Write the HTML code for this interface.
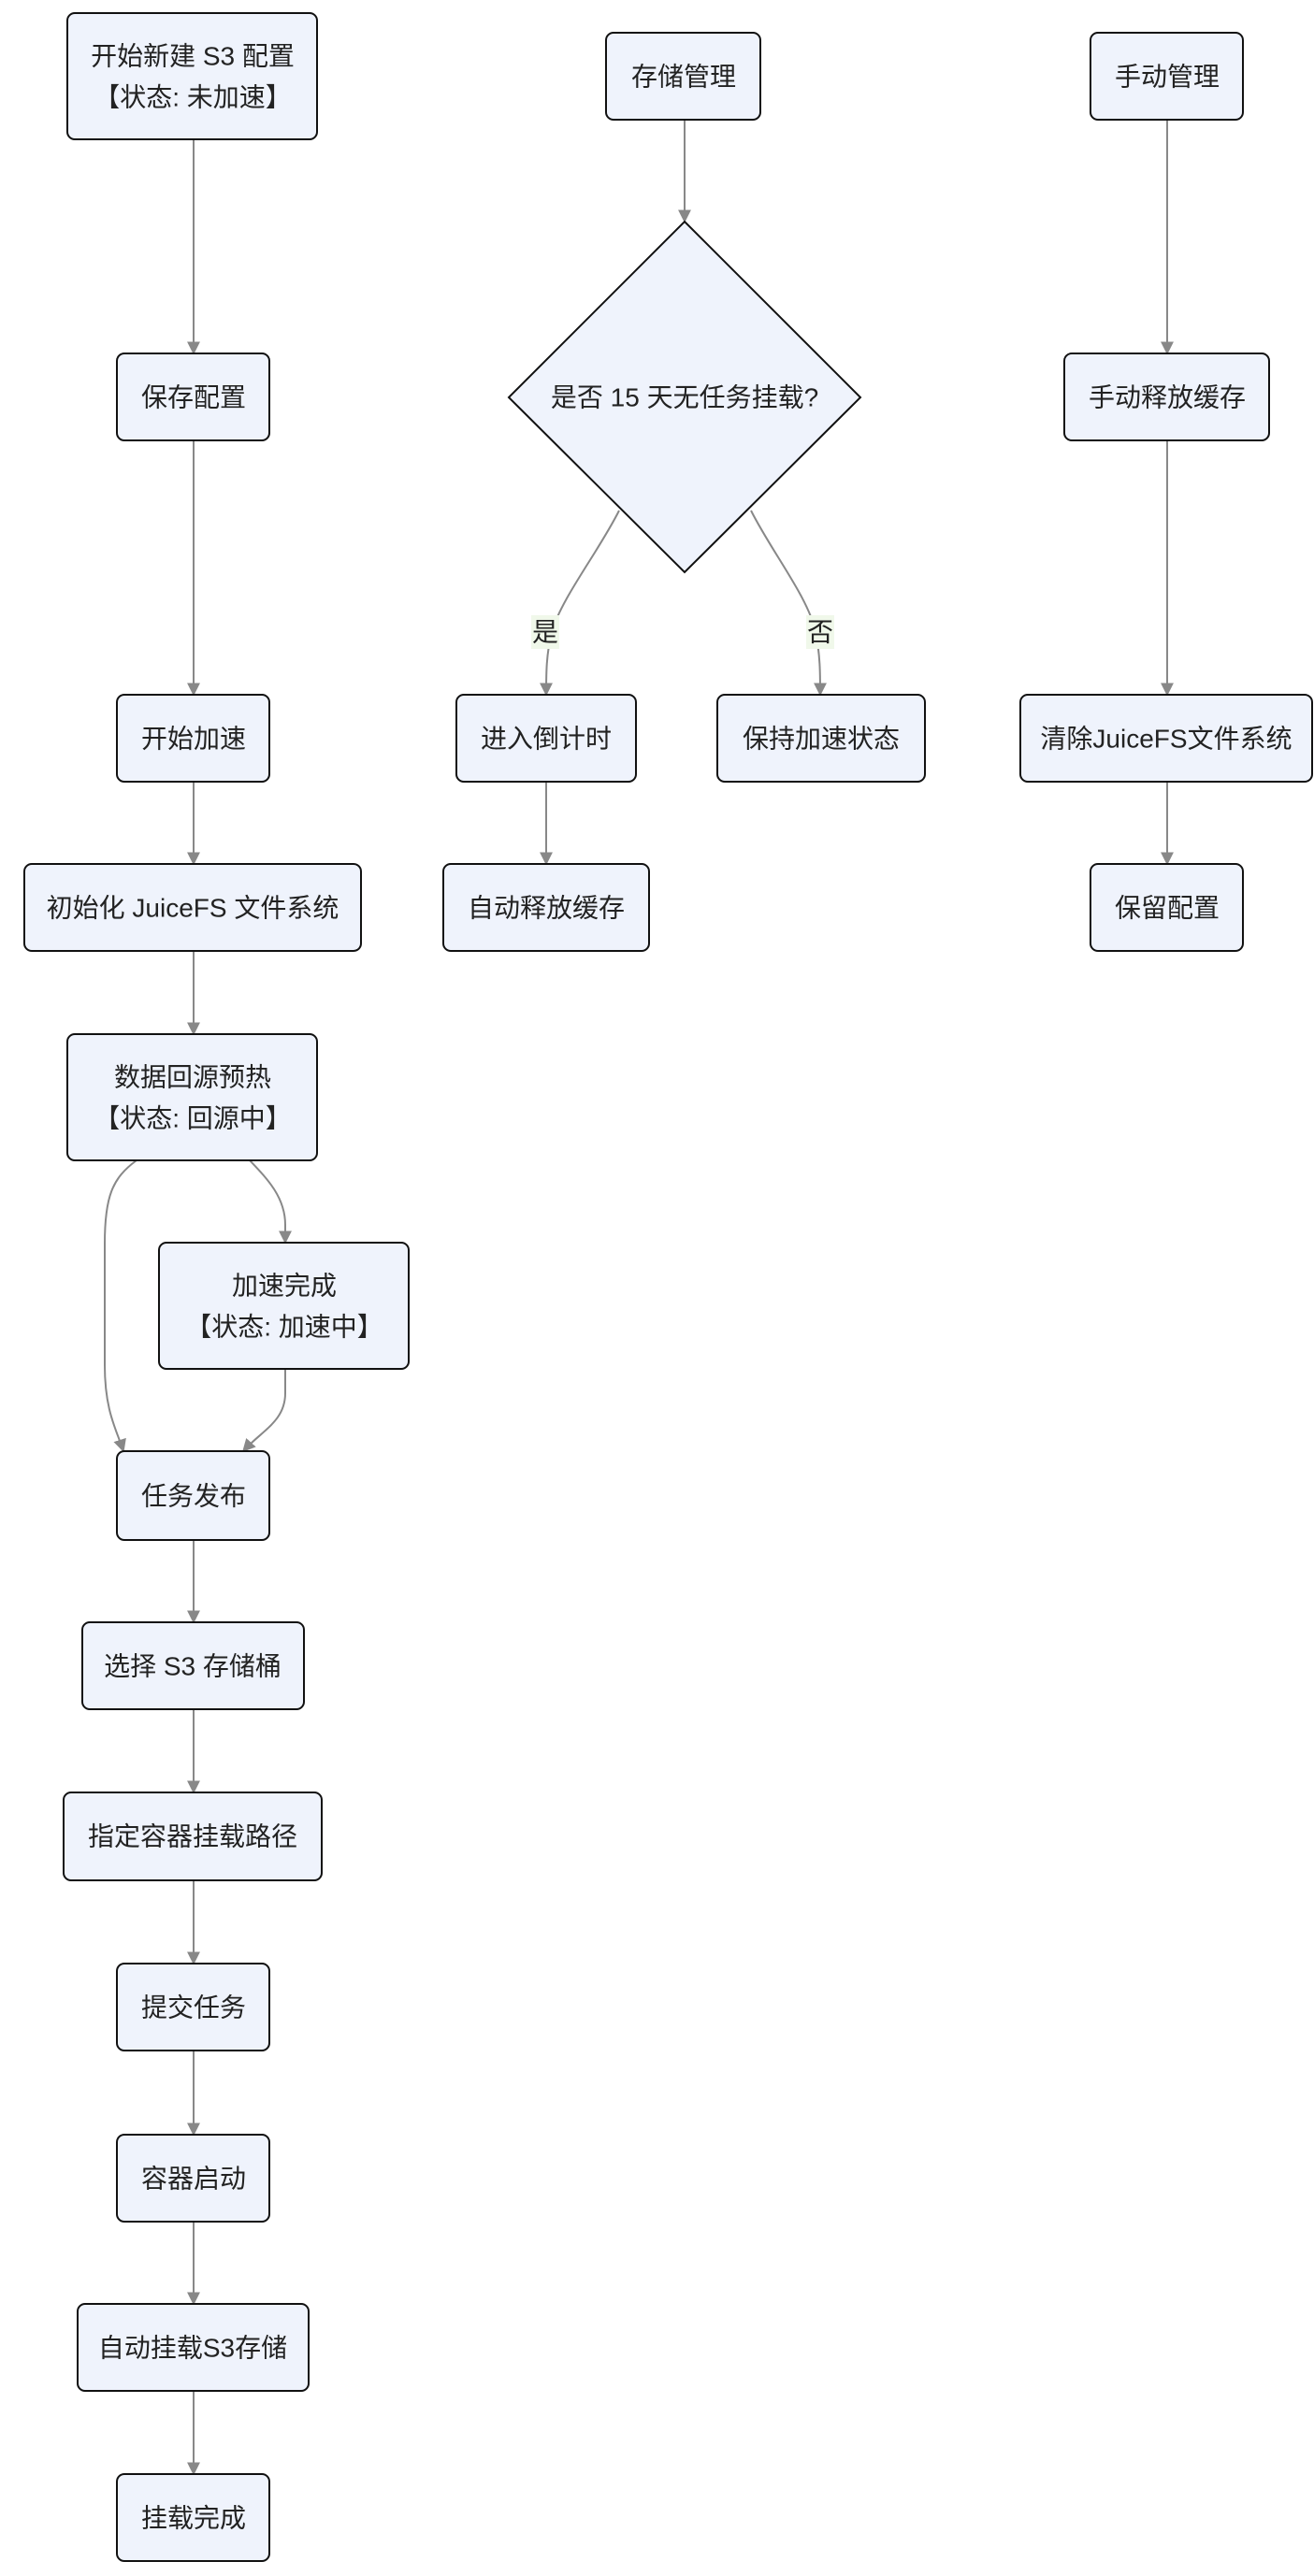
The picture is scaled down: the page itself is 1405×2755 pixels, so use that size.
<!DOCTYPE html>
<html><head><meta charset="utf-8"><style>
html,body{margin:0;padding:0;background:#fff;}
svg{display:block;}
text{font-family:"Liberation Sans","Noto Sans CJK SC",sans-serif;font-size:28px;fill:#222;text-anchor:middle;dominant-baseline:central;}
.n{fill:#eff3fc;stroke:#111;stroke-width:2;}
.e{fill:none;stroke:#888;stroke-width:2;}
</style></head><body>
<svg width="1405" height="2755" viewBox="0 0 1405 2755" xmlns="http://www.w3.org/2000/svg">
<defs><marker id="a" viewBox="0 0 10 10" refX="9" refY="5" markerWidth="9" markerHeight="9" markerUnits="userSpaceOnUse" orient="auto"><path d="M0,0L10,5L0,10z" fill="#888"/></marker>
<marker id="b" viewBox="0 0 10 10" refX="9" refY="5" markerWidth="14" markerHeight="14" markerUnits="userSpaceOnUse" orient="auto"><path d="M0,0L10,5L0,10z" fill="#888"/></marker></defs>
<g marker-end="url(#b)">
<path class="e" d="M207,149V378"/>
<path class="e" d="M207,471V743"/>
<path class="e" d="M207,836V924"/>
<path class="e" d="M207,1017V1106"/>
<path class="e" d="M146,1241C120,1260 112,1280 112,1330V1460C112,1510 125,1530 132,1552"/>
<path class="e" d="M267,1241C285,1260 305,1280 305,1310V1329"/>
<path class="e" d="M305,1464V1490C305,1520 280,1530 260,1552"/>
<path class="e" d="M207,1647V1735"/>
<path class="e" d="M207,1828V1917"/>
<path class="e" d="M207,2011V2100"/>
<path class="e" d="M207,2193V2283"/>
<path class="e" d="M207,2376V2464"/>
<path class="e" d="M207,2557V2646"/>
<path class="e" d="M732,128V237"/>
<path class="e" d="M662,546C640,590 600,640 590,676C584,700 584,720 584,743"/>
<path class="e" d="M803,546C825,590 865,640 872,676C877,700 877,720 877,743"/>
<path class="e" d="M584,836V924"/>
<path class="e" d="M1248,128V378"/>
<path class="e" d="M1248,471V743"/>
<path class="e" d="M1248,836V924"/>
</g>
<rect x="568" y="658" width="30" height="36" fill="#f0f8ea"/><text x="583" y="676">是</text>
<rect x="862" y="658" width="30" height="36" fill="#f0f8ea"/><text x="877" y="676">否</text>

<rect class="n" x="72" y="14" width="267" height="135" rx="8"/><text x="206" y="60">开始新建 S3 配置</text><text x="206" y="104">【状态: 未加速】</text>
<rect class="n" x="125" y="378" width="163" height="93" rx="8"/><text x="207" y="425">保存配置</text>
<rect class="n" x="125" y="743" width="163" height="93" rx="8"/><text x="207" y="790">开始加速</text>
<rect class="n" x="26" y="924" width="360" height="93" rx="8"/><text x="206" y="971">初始化 JuiceFS 文件系统</text>
<rect class="n" x="72" y="1106" width="267" height="135" rx="8"/><text x="206" y="1152">数据回源预热</text><text x="206" y="1196">【状态: 回源中】</text>
<rect class="n" x="170" y="1329" width="267" height="135" rx="8"/><text x="304" y="1375">加速完成</text><text x="304" y="1419">【状态: 加速中】</text>
<rect class="n" x="125" y="1552" width="163" height="95" rx="8"/><text x="207" y="1600">任务发布</text>
<rect class="n" x="88" y="1735" width="237" height="93" rx="8"/><text x="206" y="1782">选择 S3 存储桶</text>
<rect class="n" x="68" y="1917" width="276" height="94" rx="8"/><text x="206" y="1964">指定容器挂载路径</text>
<rect class="n" x="125" y="2100" width="163" height="93" rx="8"/><text x="207" y="2147">提交任务</text>
<rect class="n" x="125" y="2283" width="163" height="93" rx="8"/><text x="207" y="2330">容器启动</text>
<rect class="n" x="83" y="2464" width="247" height="93" rx="8"/><text x="206" y="2511">自动挂载S3存储</text>
<rect class="n" x="125" y="2646" width="163" height="93" rx="8"/><text x="207" y="2693">挂载完成</text>

<rect class="n" x="648" y="35" width="165" height="93" rx="8"/><text x="731" y="82">存储管理</text>
<path class="n" d="M732,237L920,425L732,612L544,425Z"/><text x="732" y="425">是否 15 天无任务挂载?</text>
<rect class="n" x="488" y="743" width="192" height="93" rx="8"/><text x="584" y="790">进入倒计时</text>
<rect class="n" x="767" y="743" width="222" height="93" rx="8"/><text x="878" y="790">保持加速状态</text>
<rect class="n" x="474" y="924" width="220" height="93" rx="8"/><text x="584" y="971">自动释放缓存</text>

<rect class="n" x="1166" y="35" width="163" height="93" rx="8"/><text x="1248" y="82">手动管理</text>
<rect class="n" x="1138" y="378" width="219" height="93" rx="8"/><text x="1248" y="425">手动释放缓存</text>
<rect class="n" x="1091" y="743" width="312" height="93" rx="8"/><text x="1247" y="790">清除JuiceFS文件系统</text>
<rect class="n" x="1166" y="924" width="163" height="93" rx="8"/><text x="1248" y="971">保留配置</text>
</svg>
</body></html>
